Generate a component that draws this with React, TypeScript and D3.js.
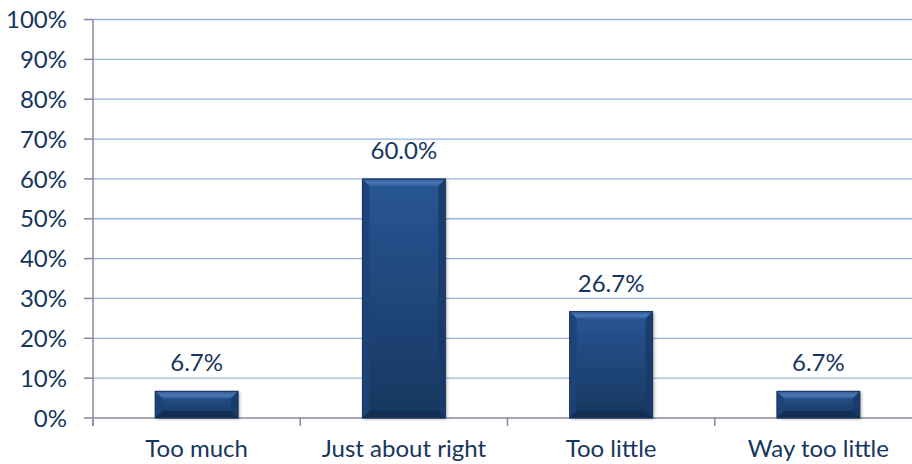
import React from "react";
import * as d3 from "d3";

// Survey responses: share of respondents per answer
const categories: string[] = ["Too much", "Just about right", "Too little", "Way too little"];
const shares: number[] = [0.067, 0.6, 0.267, 0.067];
const yTicks: number[] = [0, 0.1, 0.2, 0.3, 0.4, 0.5, 0.6, 0.7, 0.8, 0.9, 1.0];

const W = 912;
const H = 464;
const FONT = "Lato, 'Open Sans', sans-serif";
const TEXT = "#17365D";
const GRID = "#95B3D7";
const AXIS = "#868B9B";

export default function App() {
  const left = 93;
  const right = 922;
  const top = 19.5;
  const bottom = 418;

  const x = d3.scaleBand<string>().domain(categories).range([left, right]).paddingInner(0.6).paddingOuter(0.3);
  const y = d3.scaleLinear().domain([0, 1]).range([bottom, top]);
  const bw = x.bandwidth();
  const bevel = 7;
  const pct = d3.format(".0%");
  const pct1 = d3.format(".1%");
  const boundaries = d3.range(categories.length + 1).map((i) => left + i * (right - left) / categories.length);

  return (
    <svg width={W} height={H} style={{ position: "absolute", left: 0, top: 0, display: "block" }}>
      <defs>
        <linearGradient id="face" x1="0" y1="0" x2="0" y2="1">
          <stop offset="0" stopColor="#285694" />
          <stop offset="1" stopColor="#17375F" />
        </linearGradient>
        <linearGradient id="bevelTop" x1="0" y1="0" x2="0" y2="1">
          <stop offset="0" stopColor="#2C5996" />
          <stop offset="0.5" stopColor="#4A77B3" />
          <stop offset="1" stopColor="#3563A2" />
        </linearGradient>
        <filter id="shadow" x="-20%" y="-20%" width="140%" height="140%">
          <feDropShadow dx="1.5" dy="1" stdDeviation="1.5" floodColor="#000" floodOpacity="0.35" />
        </filter>
      </defs>
      <rect width={W} height={H} fill="#fff" />

      {/* horizontal gridlines */}
      {yTicks.slice(1).map((t) => (
        <line key={t} x1={left} x2={W} y1={y(t)} y2={y(t)} stroke={GRID} strokeWidth={1.3} />
      ))}

      {/* y axis */}
      <line x1={left} x2={left} y1={top} y2={bottom + 8} stroke={AXIS} strokeWidth={1.5} />
      {yTicks.map((t) => (
        <g key={t}>
          <line x1={left - 9} x2={left} y1={y(t)} y2={y(t)} stroke={AXIS} strokeWidth={1.5} />
          <text x={67} y={y(t)} dy="0.36em" textAnchor="end" fill={TEXT} fontFamily={FONT} fontSize={24}>
            {pct(t)}
          </text>
        </g>
      ))}

      {/* x axis */}
      <line x1={left} x2={W} y1={bottom} y2={bottom} stroke={AXIS} strokeWidth={1.5} />
      {boundaries.map((b, i) => (
        <line key={i} x1={b} x2={b} y1={bottom} y2={bottom + 8} stroke={AXIS} strokeWidth={1.5} />
      ))}

      {/* bars with bevel */}
      {categories.map((c, i) => {
        const x0 = x(c)!;
        const x1 = x0 + bw;
        const y0 = y(shares[i]);
        const h = bottom - y0;
        return (
          <g key={c}>
            <rect x={x0} y={y0} width={bw} height={h} fill="url(#face)" filter="url(#shadow)" />
            <polygon
              points={`${x0},${y0} ${x1},${y0} ${x1 - bevel},${y0 + bevel} ${x0 + bevel},${y0 + bevel}`}
              fill="url(#bevelTop)"
            />
            <polygon
              points={`${x0},${y0} ${x0 + bevel},${y0 + bevel} ${x0 + bevel},${bottom - bevel} ${x0},${bottom}`}
              fill="#1E4378"
              opacity={0.9}
            />
            <polygon
              points={`${x1},${y0} ${x1 - bevel},${y0 + bevel} ${x1 - bevel},${bottom - bevel} ${x1},${bottom}`}
              fill="#1A3B6B"
              opacity={0.9}
            />
            <polygon
              points={`${x0},${bottom} ${x0 + bevel},${bottom - bevel} ${x1 - bevel},${bottom - bevel} ${x1},${bottom}`}
              fill="#132E52"
            />
            <rect x={x0} y={y0} width={bw} height={h} fill="none" stroke="#15325A" strokeWidth={1} />
            <text
              x={x0 + bw / 2}
              y={y0 - 20}
              textAnchor="middle"
              fill={TEXT}
              fontFamily={FONT}
              fontSize={24}
            >
              {pct1(shares[i])}
            </text>
            <text
              x={x0 + bw / 2}
              y={457}
              textAnchor="middle"
              fill={TEXT}
              fontFamily={FONT}
              fontSize={24}
            >
              {c}
            </text>
          </g>
        );
      })}
    </svg>
  );
}
